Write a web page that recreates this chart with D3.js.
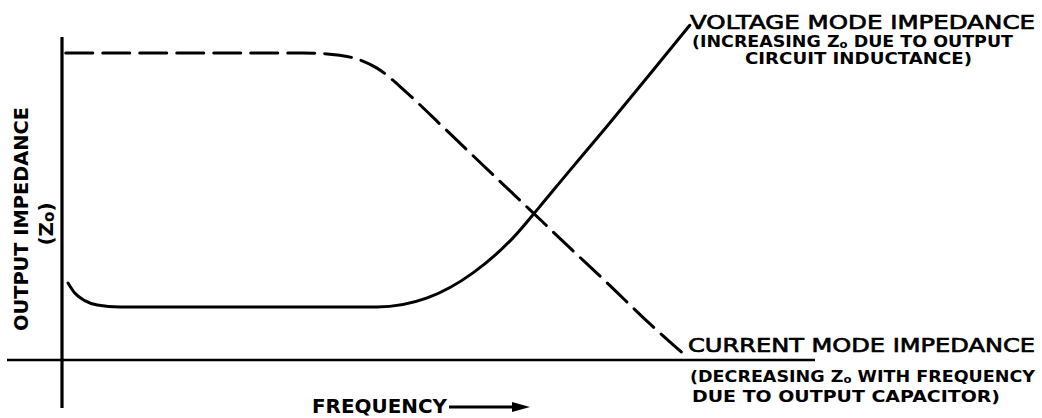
<!DOCTYPE html>
<html>
<head>
<meta charset="utf-8">
<script src="https://cdn.jsdelivr.net/npm/d3@7"></script>
<style>
  body { margin: 0; background: #fff; }
  text { font-family: "DejaVu Sans", sans-serif; fill: #000; }
</style>
</head>
<body>
<div id="chart"></div>
<script>
// frequency (arbitrary units) and output impedance (arbitrary units)
const currentFreq = [0.05, 1.2, 2.5, 3.2, 3.7, 4.2, 4.6, 5.08, 5.61, 6.24, 6.73, 7.27, 7.84, 8.35];
const currentZ    = [9.45, 9.45, 9.45, 9.45, 9.38, 8.98, 8.22, 7.17, 6.0, 4.62, 3.54, 2.37, 1.11, 0.06];

const voltageFreq = [0.08, 0.17, 0.31, 0.47, 0.77, 2.5, 4.2, 4.87, 5.48, 6.01, 6.37, 6.73, 7.27, 7.84, 8.37];
const voltageZ    = [2.37, 2.06, 1.82, 1.69, 1.63, 1.63, 1.63, 1.91, 2.68, 3.75, 4.72, 5.72, 7.2, 8.8, 10.3];

const voltageLabels = ["VOLTAGE MODE IMPEDANCE", "(INCREASING Z", "o", " DUE TO OUTPUT", "CIRCUIT INDUCTANCE)"];
const currentLabels = ["CURRENT MODE IMPEDANCE", "(DECREASING Z", "o", " WITH FREQUENCY", "DUE TO OUTPUT CAPACITOR)"];

const width = 1042;
const height = 418;

const svg = d3.select("#chart")
  .append("svg")
  .attr("width", width)
  .attr("height", height);

const x = d3.scaleLinear().domain([0, 10]).range([62, 812]);
const y = d3.scaleLinear().domain([0, 10]).range([360, 35]);

// axes drawn as plain lines
svg.append("line")
  .attr("x1", x(0)).attr("x2", x(0))
  .attr("y1", 37).attr("y2", 408)
  .attr("stroke", "#000").attr("stroke-width", 3.2);

svg.append("line")
  .attr("x1", 7).attr("x2", 815)
  .attr("y1", y(0)).attr("y2", y(0))
  .attr("stroke", "#000").attr("stroke-width", 2.6);

const line = d3.line()
  .x(d => x(d[0]))
  .y(d => y(d[1]))
  .curve(d3.curveMonotoneX);

svg.append("path")
  .datum(d3.zip(currentFreq, currentZ))
  .attr("d", line)
  .attr("fill", "none")
  .attr("stroke", "#000")
  .attr("stroke-width", 3)
  .attr("stroke-dasharray", "27,10")
  .attr("stroke-linecap", "round");

svg.append("path")
  .datum(d3.zip(voltageFreq, voltageZ))
  .attr("d", line)
  .attr("fill", "none")
  .attr("stroke", "#000")
  .attr("stroke-width", 3)
  .attr("stroke-linecap", "round");

function mainLine(label, px, py, len) {
  svg.append("text")
    .attr("x", px).attr("y", py)
    .attr("font-size", 20)
    .attr("stroke", "#000")
    .attr("stroke-width", 0.7)
    .attr("textLength", len)
    .attr("lengthAdjust", "spacingAndGlyphs")
    .text(label);
}

function subLine(labels, px, py, len) {
  const t = svg.append("text")
    .attr("x", px).attr("y", py)
    .attr("font-size", 15)
    .attr("font-weight", "bold")
    .attr("textLength", len)
    .attr("lengthAdjust", "spacingAndGlyphs");
  t.append("tspan").text(labels[1]);
  t.append("tspan").attr("font-size", 10).attr("dy", 1).text(labels[2]);
  t.append("tspan").attr("dy", -1).text(labels[3]);
}

function lastLine(label, px, py, len) {
  svg.append("text")
    .attr("x", px).attr("y", py)
    .attr("font-size", 15)
    .attr("font-weight", "bold")
    .attr("textLength", len)
    .attr("lengthAdjust", "spacingAndGlyphs")
    .text(label);
}

// voltage mode label
mainLine(voltageLabels[0], 690, 29, 345);
subLine(voltageLabels, 692, 47, 321);
lastLine(voltageLabels[4], 745, 64, 227);

// current mode label
mainLine(currentLabels[0], 688, 352, 347);
subLine(currentLabels, 690, 382, 345);
lastLine(currentLabels[4], 692, 402, 308);

// x label with arrow
svg.append("text")
  .attr("x", 312).attr("y", 413)
  .attr("font-size", 19)
  .attr("font-weight", "bold")
  .attr("textLength", 135)
  .attr("lengthAdjust", "spacingAndGlyphs")
  .text("FREQUENCY");

svg.append("line")
  .attr("x1", 449).attr("x2", 516)
  .attr("y1", 407).attr("y2", 407)
  .attr("stroke", "#000").attr("stroke-width", 3);
svg.append("path")
  .attr("d", "M512,402 L530,407 L512,412 Z")
  .attr("fill", "#000");

// y label
svg.append("text")
  .attr("transform", "translate(28,219) rotate(-90)")
  .attr("text-anchor", "middle")
  .attr("font-size", 20)
  .attr("font-weight", "bold")
  .attr("textLength", 224)
  .attr("lengthAdjust", "spacingAndGlyphs")
  .text("OUTPUT IMPEDANCE");

const zo = svg.append("text")
  .attr("transform", "translate(53,224) rotate(-90)")
  .attr("text-anchor", "middle")
  .attr("font-size", 20)
  .attr("font-weight", "bold");
zo.append("tspan").text("(Z");
zo.append("tspan").attr("font-size", 15).attr("dy", 1).text("o");
zo.append("tspan").attr("dy", -1).text(")");
</script>
</body>
</html>
